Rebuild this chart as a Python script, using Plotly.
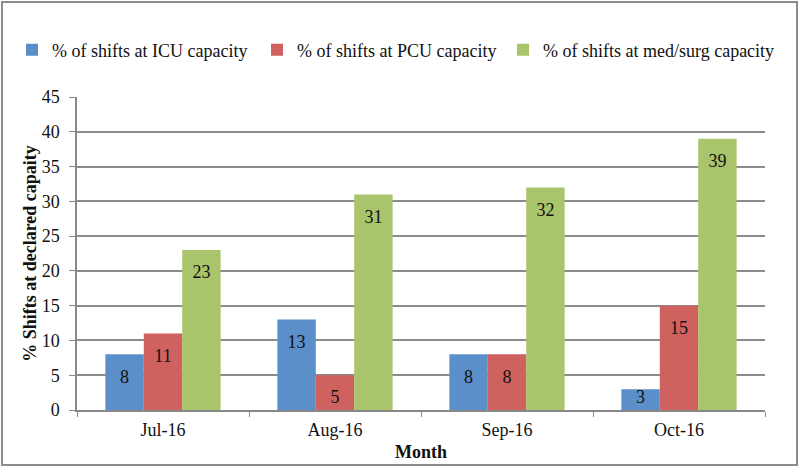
import plotly.graph_objects as go

months = ["Jul-16", "Aug-16", "Sep-16", "Oct-16"]
icu = [8, 13, 8, 3]
pcu = [11, 5, 8, 15]
medsurg = [23, 31, 32, 39]
series_names = ["% of shifts at ICU capacity", "% of shifts at PCU capacity", "% of shifts at med/surg capacity"]
colors = ["#5B8FC9", "#CF625E", "#A9C46B"]

FONT = "Liberation Serif"
TXT = "#111111"
legend_ids = ["legend", "legend2", "legend3"]

fig = go.Figure()
for i, (name, vals, col) in enumerate(zip(series_names, [icu, pcu, medsurg], colors)):
    fig.add_trace(go.Bar(
        x=months, y=vals, name=name, offsetgroup=str(i), legend=legend_ids[i],
        marker=dict(color=col, line=dict(width=0)),
    ))
for i, vals in enumerate([icu, pcu, medsurg]):
    fig.add_trace(go.Scatter(
        x=months, y=vals, mode="markers+text", offsetgroup=str(i),
        text=[str(v) for v in vals], textposition="bottom center",
        marker=dict(size=[22 if v > 4 else 0 for v in vals], color="rgba(0,0,0,0)",
                    opacity=0, line=dict(width=0)),
        textfont=dict(family=FONT, size=18, color=TXT),
        showlegend=False, hoverinfo="skip", cliponaxis=False,
    ))

W, H = 800, 468
L, R, T, B = 77, 35, 97, 58
pw, ph = W - L - R, H - T - B

def px(x):
    return (x - L) / pw

def py(y):
    return (H - B - y) / ph

def leg(xpix):
    return dict(orientation="h", x=px(xpix), y=py(50), xanchor="left", yanchor="middle",
                font=dict(family=FONT, size=18, color=TXT), itemwidth=30,
                bgcolor="rgba(0,0,0,0)")

fig.update_layout(
    width=W, height=H,
    margin=dict(l=L, r=R, t=T, b=B, autoexpand=False),
    paper_bgcolor="white", plot_bgcolor="white",
    font=dict(family=FONT, size=18, color=TXT),
    barmode="group", bargap=0.33, bargroupgap=0,
    scattermode="group", scattergap=0.33,
    showlegend=True,
    legend=leg(12), legend2=leg(257), legend3=leg(503),
    xaxis=dict(
        type="category", tickson="boundaries", ticks="outside", ticklen=5,
        tickcolor="#888888", showline=True, linecolor="#888888", linewidth=1.5,
        showgrid=False, ticklabelstandoff=3,
        tickfont=dict(family=FONT, size=18, color=TXT),
        title=dict(text="<b>Month</b>", font=dict(family=FONT, size=18, color=TXT), standoff=6),
    ),
    yaxis=dict(
        range=[0, 45], dtick=5, tick0=0, ticks="outside", ticklen=6,
        tickcolor="#888888", showline=True, linecolor="#888888", linewidth=1.5,
        showgrid=True, gridcolor="#8c8c8c", gridwidth=1.5, zeroline=False,
        ticklabelstandoff=6,
        tickfont=dict(family=FONT, size=18, color=TXT),
        title=dict(text="<b>% Shifts at declared capaity</b>", font=dict(family=FONT, size=18, color=TXT), standoff=0),
    ),
    shapes=[dict(type="rect", xref="paper", yref="paper",
                 x0=px(2), x1=px(797), y0=py(465), y1=py(2),
                 line=dict(color="#8c8c8c", width=2), fillcolor="rgba(0,0,0,0)", layer="above")],
)

fig.write_html("out.html", config={"displayModeBar": False},
               post_script="document.body.style.margin='0';")
